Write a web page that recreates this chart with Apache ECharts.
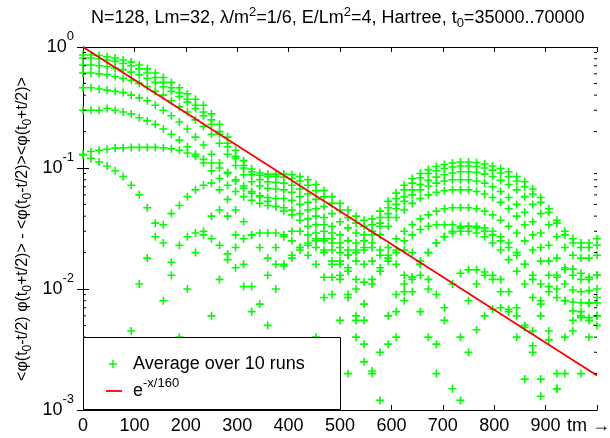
<!DOCTYPE html>
<html><head><meta charset="utf-8">
<script src="https://cdn.jsdelivr.net/npm/echarts@6/dist/echarts.min.js"></script>
<style>html,body{margin:0;padding:0;background:#fff}#c{width:610px;height:438px}</style>
</head><body><div id="c"></div>
<script>
// sample times (tm)
const tm = [0,15.6,31.3,46.9,62.5,78.1,93.8,109.4,125,140.6,156.3,171.9,187.5,203.1,218.8,234.4,
250,265.6,281.3,296.9,312.5,328.1,343.8,359.4,375,390.6,406.3,421.9,437.5,453.1,468.8,484.4,
500,515.6,531.3,546.9,562.5,578.1,593.8,609.4,625,640.6,656.3,671.9,687.5,703.1,718.8,734.4,
750,765.6,781.3,796.9,812.5,828.1,843.8,859.4,875,890.6,906.3,921.9,937.5,953.1,968.8,984.4,1000];

const c1 = [.86,.86,.85,.83,.81,.78,.75,.71,.66,.61,.56,.51,.46,.41,.37,.33,
.28,.23,.18,.14,.115,.098,.091,.089,.089,.089,.088,.085,.080,.073,.065,.058,
.051,.045,.040,.037,.038,.044,.053,.062,.072,.082,.090,.097,.103,.107,.110,.112,
.112,.111,.108,.104,.099,.093,.085,.077,.067,.057,.046,.037,.030,.026,.024,.024,.026];
const c2 = [.81,.81,.80,.78,.76,.73,.70,.66,.61,.56,.51,.46,.42,.37,.33,.29,
.25,.20,.16,.125,.105,.093,.087,.085,.085,.084,.082,.078,.072,.065,.058,.051,
.045,.039,.035,.033,.034,.039,.047,.056,.066,.075,.083,.090,.095,.099,.102,.104,
.104,.103,.100,.096,.091,.085,.078,.070,.061,.052,.043,.035,.028,.024,.022,.022,.023];
const c3 = [.71,.71,.70,.69,.67,.65,.62,.59,.55,.51,.47,.43,.39,.35,.31,.27,
.23,.19,.15,.12,.10,.088,.080,.077,.076,.075,.072,.067,.061,.055,.048,.042,
.036,.032,.029,.028,.030,.035,.042,.050,.058,.066,.073,.079,.084,.088,.091,.093,
.093,.092,.089,.085,.079,.073,.066,.058,.050,.042,.034,.027,.022,.019,.018,.018,.019];
const c4 = [.61,.61,.60,.59,.57,.55,.53,.50,.47,.43,.40,.36,.32,.29,.25,.22,
.19,.16,.13,.105,.088,.077,.071,.068,.067,.066,.063,.058,.052,.046,.039,.033,
.028,.025,.024,.025,.028,.033,.039,.046,.053,.060,.066,.071,.075,.078,.080,.080,
.080,.078,.075,.070,.064,.057,.050,.043,.036,.029,.023,.018,.015,.013,.012,.0125,.013];
const c5 = [.46,.46,.45,.44,.43,.42,.40,.38,.36,.33,.30,.27,.24,.21,.18,.155,
.13,.11,.092,.078,.068,.062,.059,.057,.056,.056,.054,.050,.045,.040,.034,.029,
.024,.021,.020,.021,.024,.028,.033,.039,.045,.051,.056,.060,.063,.065,.066,.066,
.066,.064,.061,.057,.052,.046,.040,.034,.028,.022,.017,.013,.011,.0098,.0095,.0097,.010];
const c6 = [.30,.30,.30,.31,.30,.29,.28,.26,.245,.23,.21,.19,.17,.15,.13,.11,
.095,.082,.072,.064,.058,.054,.051,.049,.048,.047,.045,.042,.038,.034,.030,.026,
.022,.019,.017,.016,.017,.019,.022,.026,.030,.034,.038,.041,.044,.046,.047,.047,
.047,.046,.044,.041,.037,.033,.029,.025,.021,.017,.013,.010,.0080,.0066,.0060,.0058,.0060];
const c7 = [.13,.137,.14,.143,.146,.147,.148,.148,.148,.148,.147,.144,.14,.133,.125,.118,
.11,.10,.09,.08,.071,.064,.058,.053,.048,.044,.041,.037,.033,.029,.025,.021,
.017,.014,.012,.0114,.012,.014,.017,.021,.025,.028,.031,.033,.034,.034,.034,.033,
.033,.032,.030,.028,.025,.022,.019,.016,.013,.011,.0095,.0085,.0080,.0078,.0077,.0077,.0077];
const c8 = [.128,.12,.112,.104,.095,.085,.072,.06,.047,.035,.024,.013,.004,null,null,null,
null,null,null,null,null,null,null,null,null,null,null,null,null,.004,.0085,.0125,
.016,.019,.021,.022,.022,.021,.019,.016,.013,.0095,.0065,.004,.002,null,null,.0012,
.003,.0046,.006,.0068,.007,.0068,.006,.0048,.0034,.0018,null,null,null,null,null,null,null];
const c9 = [null,null,null,null,null,null,.0045,.011,.018,.027,.034,.042,.049,.058,.066,.072,
.075,.066,.055,.045,.036,.028,.022,.018,.016,.016,.018,.021,.024,.026,.026,.024,
.02,.015,.01,.0055,.002,null,null,.004,.008,.012,.016,.02,.024,.027,.03,.032,
.033,.033,.032,.030,.027,.024,.02,.016,.012,.008,.0045,.0015,null,null,.002,.004,.006];
const c10 = [null,null,null,null,null,null,null,null,null,null,.008,.0166,.023,.027,.029,.028,
.026,.023,.0195,.015,.0105,.0065,.002,.005,.01,.0155,.019,.022,.023,.022,.02,.016,
.012,.0085,.0055,.0025,null,.003,.006,.009,.011,.0125,.013,.012,.009,.0055,.0015,.004,
.008,.011,.013,.013,.012,.0095,.007,.005,.003,.0013,null,.002,.004,.0055,.0058,.0055,.005];
const c11 = [null,null,null,null,null,null,null,null,null,null,null,null,null,null,null,null,
.006,.012,.0175,.022,.026,.028,.029,.029,.029,.027,.025,.022,.019,.016,.0125,.009,
.0055,.002,.004,.0075,.011,.015,.018,.02,.021,.02,.017,.01,.0035,.007,.011,.0135,
.0144,.0144,.0138,.012,.0095,.0065,.004,.0018,.0045,.0075,.0105,.0125,.0145,.0146,.0135,.012,.013];
const c12 = [null,null,null,null,null,null,null,null,null,null,null,null,null,.01,.02,.03,
.04,.045,.04,.028,.016,.0105,.0075,.013,.022,.028,.03,.03,.028,.025,.021,.017,
.013,.009,.006,.0035,.0021,.0012,.0035,.0065,.0095,.0125,.016,.02,.024,.027,.029,.03,
.03,.029,.027,.024,.021,.0175,.014,.011,.0085,.006,.0038,.0015,.002,.0045,.0065,.0076,.0085];

// reference curve e^{-x/160}: end points
const redX = [0, 1000];
const redY = [1, 0.00193];

const xTickLabels = ['0','100','200','300','400','500','600','700','800','900'];

const curves = [c1,c2,c3,c4,c5,c6,c7,c8,c9,c10,c11,c12];
const pts = [];
curves.forEach(c => c.forEach((v,i) => { if (v != null) pts.push([tm[i], v]); }));
const redData = redX.map((x,i) => [x, redY[i]]);

const FONT = 'Liberation Sans';
const FS = 18;
const GREEN = '#00ff00', RED = '#ff0000';
const PLUS = 'path://M4,0h2v10h-2zM0,4h10v2h-10z';

const chart = echarts.init(document.getElementById('c'), null, {renderer:'canvas'});

const axisLine = {show:true, lineStyle:{color:'#000', width:1}};
const option = {
  animation:false,
  backgroundColor:'#fff',
  title:{
    text:'N=128, Lm=32, λ/m{sup|2}=1/6, E/Lm{sup|2}=4, Hartree, t{sub|0}=35000..70000',
    left:86, top:1,
    textStyle:{fontFamily:FONT, fontSize:FS, fontWeight:'normal', color:'#000',
      rich:{sup:{fontFamily:FONT, fontSize:13, color:'#000', padding:[0,0,12,0]},
            sub:{fontFamily:FONT, fontSize:13, color:'#000', padding:[10,0,0,0]}}}
  },
  grid:{left:83, right:13, top:47, bottom:28},
  xAxis:[
    {type:'value', min:0, max:1000, interval:100, position:'bottom',
     axisLine, axisTick:{show:true, inside:true, length:5, lineStyle:{color:'#000'}},
     axisLabel:{fontFamily:FONT, fontSize:FS, color:'#000', margin:7,
       formatter:(v)=>{ const k = Math.round(v/100); return k < xTickLabels.length ? xTickLabels[k] : ''; }},
     splitLine:{show:false}},
    {type:'value', min:0, max:1000, interval:100, position:'top',
     axisLine, axisTick:{show:true, inside:true, length:5, lineStyle:{color:'#000'}},
     axisLabel:{show:false}, splitLine:{show:false}}
  ],
  yAxis:[
    {type:'log', logBase:10, min:0.001, max:1, position:'left',
     axisLine, axisTick:{show:true, inside:true, length:6, lineStyle:{color:'#000'}},
     axisLabel:{margin:9, color:'#000',
       formatter:(v)=>'{b|10}{s|' + Math.round(Math.log10(v)) + '}',
       rich:{b:{fontFamily:FONT, fontSize:FS, color:'#000'},
             s:{fontFamily:FONT, fontSize:13, color:'#000', padding:[0,0,22,0]}}},
     splitLine:{show:false}},
    {type:'log', logBase:10, min:0.001, max:1, position:'right',
     axisLine, axisTick:{show:true, inside:true, length:6, lineStyle:{color:'#000'}},
     axisLabel:{show:false}, splitLine:{show:false}}
  ],
  series:[
    {type:'scatter', name:'Average over 10 runs', data:pts, symbol:PLUS, symbolSize:8,
     itemStyle:{color:GREEN, opacity:1}, silent:true, z:2},
    {type:'line', name:'e^{-x/160}', data:redData, symbol:'none', silent:true,
     lineStyle:{color:RED, width:1.8}, z:3}
  ]
};
chart.setOption(option);

// minor log ticks + legend + labels
const xl = chart.convertToPixel({xAxisIndex:0}, 0);
const xr = chart.convertToPixel({xAxisIndex:0}, 1000);
const g = [];
[-3,-2,-1].forEach(d => {
  for (let k = 2; k <= 9; k++) {
    const y = chart.convertToPixel({yAxisIndex:0}, k * Math.pow(10, d));
    g.push({type:'line', silent:true, shape:{x1:xl, y1:y, x2:xl+3, y2:y}, style:{stroke:'#000', lineWidth:1}, z:50});
    g.push({type:'line', silent:true, shape:{x1:xr, y1:y, x2:xr-3, y2:y}, style:{stroke:'#000', lineWidth:1}, z:50});
  }
});
// legend box
g.push({type:'rect', silent:true, shape:{x:83.5, y:337.5, width:257, height:72}, style:{fill:'#fff', stroke:'#000', lineWidth:1}, z:100});
g.push({type:'line', silent:true, shape:{x1:109, y1:364, x2:117, y2:364}, style:{stroke:GREEN, lineWidth:1.5}, z:101});
g.push({type:'line', silent:true, shape:{x1:113, y1:360, x2:113, y2:368}, style:{stroke:GREEN, lineWidth:1.5}, z:101});
g.push({type:'text', silent:true, x:133, y:364, z:101, style:{text:'Average over 10 runs', fontFamily:FONT, fontSize:FS, fill:'#000', align:'left', verticalAlign:'middle'}});
g.push({type:'line', silent:true, shape:{x1:106, y1:391, x2:122, y2:391}, style:{stroke:RED, lineWidth:1.8}, z:101});
g.push({type:'text', silent:true, x:133, y:391, z:101, style:{text:'e{sup|-x/160}', fontFamily:FONT, fontSize:FS, fill:'#000', align:'left', verticalAlign:'middle',
  rich:{sup:{fontFamily:FONT, fontSize:13, fill:'#000', padding:[0,0,16,0]}}}});
// axis title (vertical)
g.push({type:'text', silent:true, x:23, y:229, rotation:Math.PI/2, z:101, style:{
  text:'<φ(t{sub|0}-t/2) φ(t{sub|0}+t/2)> - <φ(t{sub|0}-t/2)><φ(t{sub|0}+t/2)>',
  fontFamily:FONT, fontSize:16, fill:'#000', align:'center', verticalAlign:'middle',
  rich:{sub:{fontFamily:FONT, fontSize:12, fill:'#000', padding:[10,0,0,0]}}}});
// x axis name
g.push({type:'text', silent:true, x:567, y:426, z:101, style:{text:'tm →', fontFamily:FONT, fontSize:FS, fill:'#000', align:'left', verticalAlign:'middle'}});
chart.setOption({graphic:g});
</script>
</body></html>
